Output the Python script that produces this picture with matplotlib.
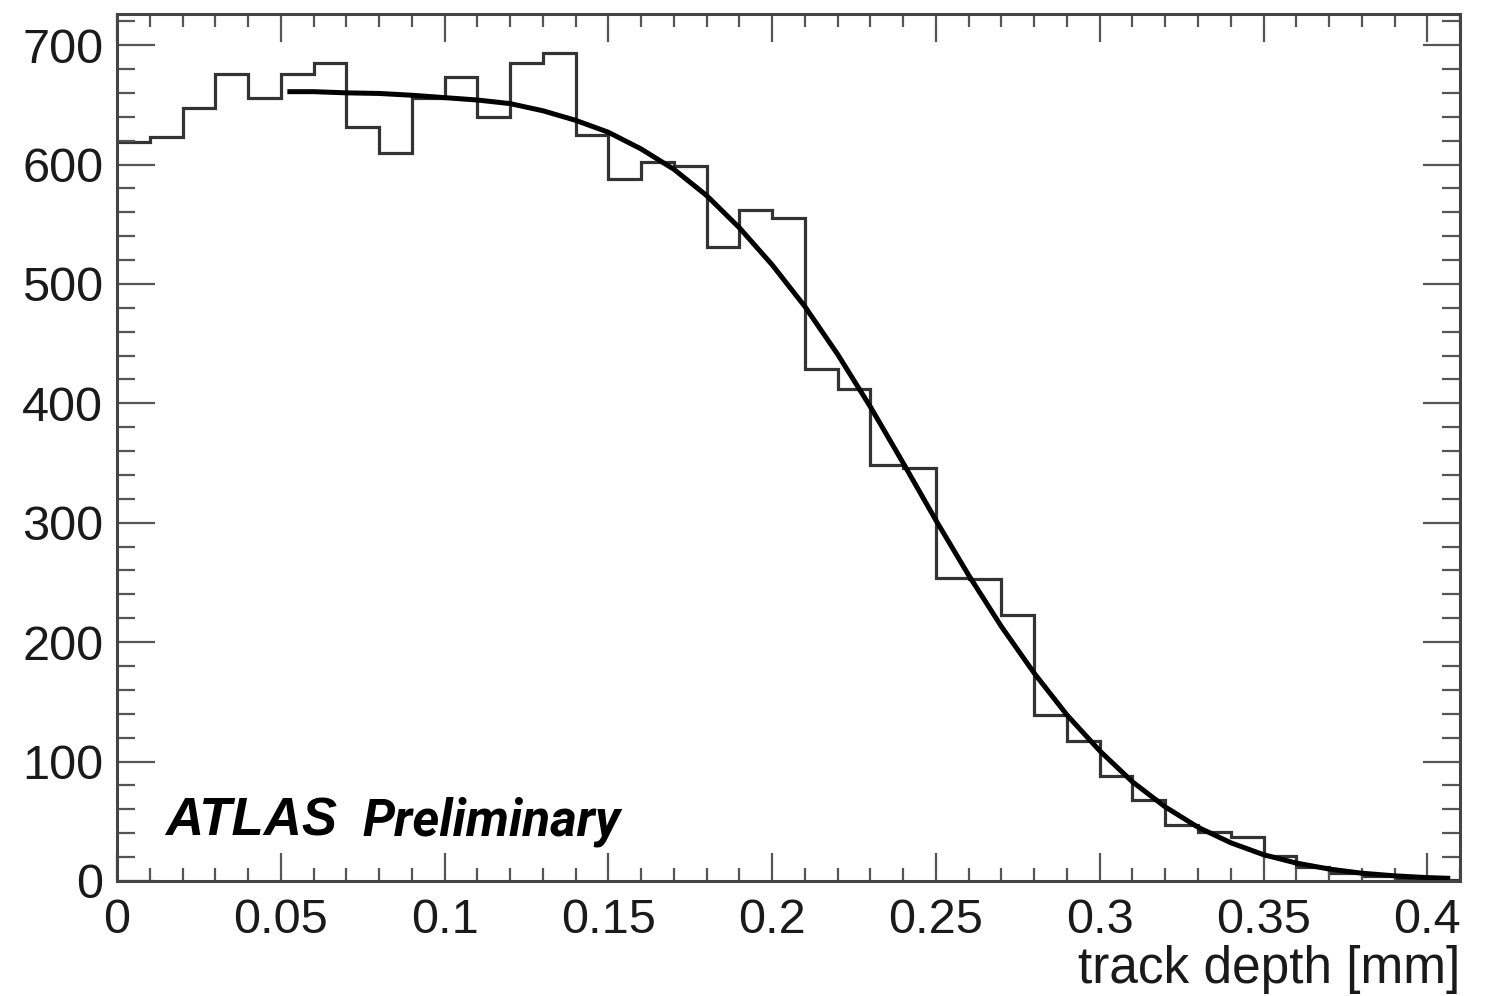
"""Track depth distribution with fitted fall-off curve (ATLAS Preliminary style)."""

import matplotlib
matplotlib.use("Agg")
import matplotlib.pyplot as plt
import numpy as np
from matplotlib.ticker import MultipleLocator


# histogram: 41 bins of 0.01 mm from 0 to 0.41 mm
BIN_WIDTH = 0.01
N_BINS = 41
COUNTS = [
	619, 623, 647, 676, 656, 676, 685, 631, 610, 656,
	673, 640, 685, 693, 625, 588, 602, 599, 531, 562,
	555, 429, 412, 348, 346, 254, 253, 223, 139, 117,
	88, 68, 47, 41, 37, 21, 12, 7, 4, 2,
	1,
]

# fit curve
FIT_X = [
	0.052, 0.06, 0.07, 0.08, 0.09, 0.10, 0.11, 0.12, 0.13, 0.14,
	0.15, 0.16, 0.17, 0.18, 0.19, 0.20, 0.21, 0.22, 0.23, 0.24,
	0.25, 0.26, 0.27, 0.28, 0.29, 0.30, 0.31, 0.32, 0.33, 0.34,
	0.35, 0.36, 0.37, 0.38, 0.39, 0.40, 0.407,
]
FIT_Y = [
	661, 661, 660, 659.5, 658, 656, 654, 651, 645, 637,
	627, 613, 596, 574, 547, 516, 481, 441, 397, 350,
	302, 256, 213, 174, 139, 109, 83, 62, 45, 32,
	22, 15, 10, 6.5, 4.3, 2.8, 2.2,
]

FONT = "Liberation Sans"
GREY = "#333333"

plt.rcParams["font.family"] = [FONT, "DejaVu Sans"]

fig = plt.figure(figsize=(14.85, 9.96), dpi=100)
ax = fig.add_axes([0.0788, 0.1155, 0.9044, 0.8704])

edges = np.arange(N_BINS + 1) * BIN_WIDTH
ax.stairs(COUNTS, edges, color=GREY, linewidth=2.3, baseline=None)
ax.plot(FIT_X, FIT_Y, color="black", linewidth=3.6, solid_capstyle="butt",
	solid_joinstyle="round")

ax.set_xlim(0, 0.41)
ax.set_ylim(0, 726)

ax.xaxis.set_minor_locator(MultipleLocator(0.01))
ax.yaxis.set_major_locator(MultipleLocator(100))
ax.yaxis.set_minor_locator(MultipleLocator(20))
ax.set_xticks(np.arange(0, 0.41, 0.05))
ax.set_xticklabels(["0", "0.05", "0.1", "0.15", "0.2", "0.25", "0.3", "0.35", "0.4"])

ax.tick_params(axis="both", which="both", direction="in", top=True, right=True,
	colors="#555555", labelcolor="#1a1a1a", labelsize=35, width=1.6)
ax.tick_params(axis="x", which="major", length=20, pad=12)
ax.tick_params(axis="x", which="minor", length=9.5)
ax.tick_params(axis="y", which="major", length=27, pad=10)
ax.tick_params(axis="y", which="minor", length=13)

for spine in ax.spines.values():
	spine.set_color("#444444")
	spine.set_linewidth(2.2)

ax.set_xlabel("track depth [mm]", fontsize=37, color="#1a1a1a", loc="right", labelpad=2)

ax.text(0.0357, 0.053, "ATLAS", transform=ax.transAxes, fontsize=38,
	fontweight="bold", fontstyle="italic", color="black", va="baseline", ha="left")
ax.text(0.1824, 0.053, "Preliminary", transform=ax.transAxes, fontsize=37,
	family=["Roboto", FONT, "DejaVu Sans"], fontweight="bold", fontstyle="italic",
	color="black", va="baseline", ha="left")

fig.savefig("out.png", dpi=100)
